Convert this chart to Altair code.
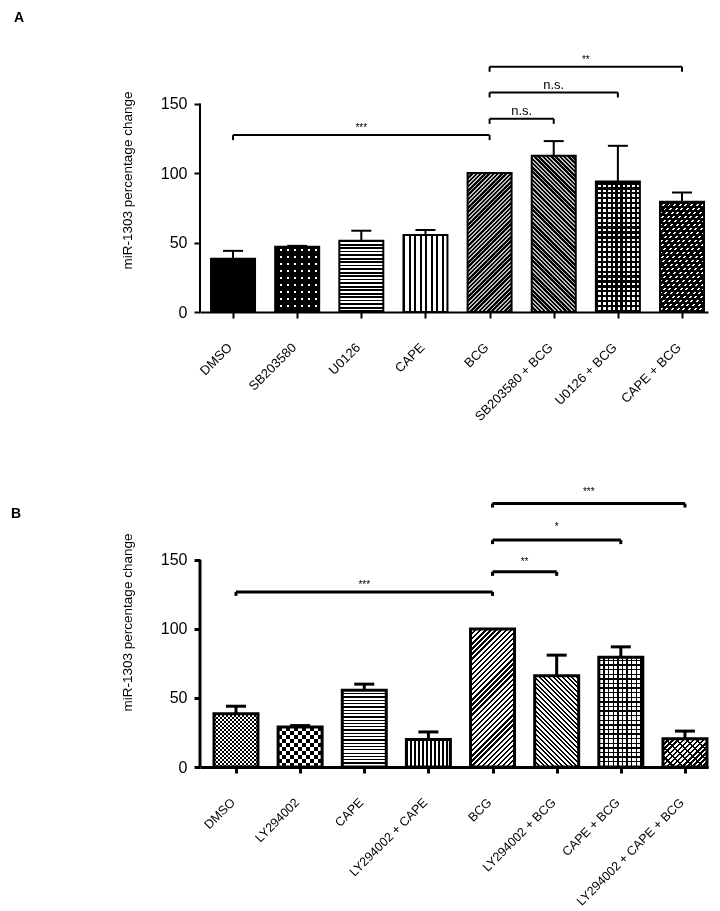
import json
import math
import altair as alt
import pandas as pd

# ---------------- data ----------------
cats_a = ["DMSO", "SB203580", "U0126", "CAPE", "BCG",
          "SB203580 + BCG", "U0126 + BCG", "CAPE + BCG"]
vals_a = [38.3, 47.0, 51.3, 55.4, 100.0, 112.5, 94.0, 79.4]
errs_a = [5.7, 0.6, 7.2, 3.6, 0.0, 10.5, 25.6, 6.6]
br_from_a = [0, 4, 4, 4]
br_to_a = [4, 5, 6, 7]
br_level_a = [127.3, 139.0, 158.0, 176.5]
br_label_a = ["***", "n.s.", "n.s.", "**"]

cats_b = ["DMSO", "LY294002", "CAPE", "LY294002 + CAPE", "BCG",
          "LY294002 + BCG", "CAPE + BCG", "LY294002 + CAPE + BCG"]
vals_b = [38.6, 29.0, 55.6, 20.0, 100.0, 66.0, 79.5, 20.5]
errs_b = [5.4, 1.0, 4.4, 5.4, 0.0, 15.0, 7.5, 5.5]
br_from_b = [0, 4, 4, 4]
br_to_b = [4, 5, 6, 7]
br_level_b = [126.8, 141.3, 164.3, 190.8]
br_label_b = ["***", "**", "*", "***"]

y_ticks = [0, 50, 100, 150]
y_title = "miR-1303 percentage change"

# ---------------- styles ----------------
FONT = "Liberation Sans"
BAR_W = 44
CAP_W = 20
WIDTH = 508
T = "rgba(255,255,255,0)"


def stripe_stops(n, duty, on, off):
    stops = []
    i = 0
    while i < n:
        a = min(i / n, 1.0)
        b = min((i + duty) / n, 1.0)
        c = min((i + 1) / n, 1.0)
        stops += [{"offset": round(a, 5), "color": on},
                  {"offset": round(b, 5), "color": on},
                  {"offset": round(b, 5), "color": off},
                  {"offset": round(c, 5), "color": off}]
        i += 1
    return stops


def gradient(kind, w, h, period, duty, on, off):
    h = max(h, 1.0)
    if kind == "h":
        n = h / period
        g = dict(x1=0, y1=1, x2=0, y2=0)
    elif kind == "v":
        n = w / period
        g = dict(x1=0, y1=0, x2=1, y2=0)
    else:
        k = h / w
        a = (w + h) / (w * (1 + k * k))
        n = (w + h) / (period * math.sqrt(2))
        if kind == "up":
            g = dict(x1=0, y1=0, x2=a, y2=a * k)
        else:
            g = dict(x1=0, y1=1, x2=a, y2=1 - a * k)
    out = {"gradient": "linear"}
    out.update(g)
    out["stops"] = stripe_stops(n, duty, on, off)
    return out


# pattern layers per bar: (kind, period px, duty, on colour, off colour, blend)
pat_a = [
    "black",
    [("v", 7, 0.74, "black", "white", None), ("h", 7, 0.74, "black", T, None)],
    [("h", 3.5, 0.45, "black", "white", None)],
    [("v", 5.5, 0.36, "black", "white", None)],
    [("up", 3.0, 0.58, "black", "#bdbdbd", None)],
    [("down", 3.0, 0.58, "black", "#bdbdbd", None)],
    [("v", 4.9, 0.45, "black", "white", None), ("h", 4.9, 0.45, "black", T, None)],
    [("up", 4.0, 0.35, "white", "black", None), ("h", 4.0, 0.4, "black", T, None)],
]
pat_b = [
    [("v", 4, 0.5, "black", "white", None), ("h", 4, 0.5, "white", T, "difference")],
    [("v", 8, 0.5, "black", "white", None), ("h", 8, 0.5, "white", T, "difference")],
    [("h", 3.3, 0.38, "black", "white", None)],
    [("v", 4.0, 0.36, "black", "white", None)],
    [("up", 3.6, 0.45, "black", "white", None)],
    [("down", 3.3, 0.45, "black", "white", None)],
    [("v", 4.6, 0.3, "black", "white", None), ("h", 4.6, 0.3, "black", T, None)],
    [("up", 3.6, 0.5, "black", "white", None), ("down", 7.0, 0.22, "black", T, None)],
]


def panel(cats, vals, errs, bfrom, bto, blevel, blabel, bsize, bgap, drop_px,
          patterns, ymax, height, xmin, xmax, lw, letter, lx, ly, xlab_size):
    ppu = height / ymax
    upx = WIDTH / (xmax - xmin)
    n = len(cats)
    df = pd.DataFrame({"idx": list(range(n)), "cat": cats, "val": vals, "err": errs})
    df["top"] = df["val"] + df["err"]
    cap_half = CAP_W / 2 / upx
    df["capl"] = df["idx"] - cap_half
    df["capr"] = df["idx"] + cap_half

    xscale = alt.Scale(domain=[xmin, xmax], nice=False, zero=False, padding=0)
    yscale = alt.Scale(domain=[0, ymax], nice=False, padding=0)
    xaxis = alt.Axis(values=list(range(n)), labelExpr=json.dumps(cats) + "[datum.value]",
                     labelAngle=-45, labelAlign="right", labelBaseline="middle",
                     labelPadding=27, labelOffset=-3.5, labelFontSize=xlab_size, labelFont=FONT,
                     labelColor="black", labelFlush=False, labelOverlap=False,
                     tickSize=6, tickWidth=lw, tickColor="black",
                     domainColor="black", domainWidth=lw, grid=False, title=None)
    yaxis = alt.Axis(values=y_ticks, domain=False, tickSize=6, tickWidth=lw, tickColor="black",
                     labelFontSize=16, labelFont=FONT, labelColor="black", labelPadding=7,
                     title=y_title, titleFontSize=13.5, titleFont=FONT, titleFontWeight="normal",
                     titleColor="black", titlePadding=26, grid=False)

    def X(f):
        return alt.X(f + ":Q", scale=xscale, axis=xaxis)

    def Y(f):
        return alt.Y(f + ":Q", scale=yscale, axis=yaxis)

    layers = []
    for i, pat in enumerate(patterns):
        sub = alt.Chart(df).transform_filter(alt.datum.idx == i)
        if isinstance(pat, str):
            layers.append(sub.mark_bar(size=BAR_W, fill=pat).encode(x=X("idx"), y=Y("val")))
            continue
        hpx = vals[i] * ppu
        for kind, period, duty, on, off, blend in pat:
            kw = {}
            if blend:
                kw["blend"] = blend
            g = gradient(kind, BAR_W, hpx, period, duty, on, off)
            layers.append(sub.mark_bar(size=BAR_W, fill=g, **kw).encode(x=X("idx"), y=Y("val")))

    # outlines
    layers.append(alt.Chart(df).mark_bar(size=BAR_W, fillOpacity=0, stroke="black",
                                         strokeWidth=lw).encode(x=X("idx"), y=Y("val")))
    # error bars
    eb = alt.Chart(df).transform_filter(alt.datum.err > 0)
    layers.append(eb.mark_rule(color="black", strokeWidth=lw).encode(
        x=X("idx"), y=Y("val"), y2="top:Q"))
    layers.append(eb.mark_rule(color="black", strokeWidth=lw).encode(
        x=X("capl"), x2="capr:Q", y=Y("top")))

    # y axis line 0..150
    ax = pd.DataFrame({"y0": [y_ticks[0]], "y1": [y_ticks[-1]]})
    layers.append(alt.Chart(ax).mark_rule(color="black", strokeWidth=lw).encode(
        x=alt.value(0), y=Y("y0"), y2="y1:Q"))

    # significance brackets
    dfb = pd.DataFrame({"f": bfrom, "t": bto, "level": blevel, "label": blabel})
    dfb["mid"] = (dfb["f"] + dfb["t"]) / 2
    dfb["low"] = dfb["level"] - drop_px / ppu
    layers.append(alt.Chart(dfb).mark_rule(color="black", strokeWidth=lw).encode(
        x=X("f"), x2="t:Q", y=Y("level")))
    layers.append(alt.Chart(dfb).mark_rule(color="black", strokeWidth=lw).encode(
        x=X("f"), y=Y("level"), y2="low:Q"))
    layers.append(alt.Chart(dfb).mark_rule(color="black", strokeWidth=lw).encode(
        x=X("t"), y=Y("level"), y2="low:Q"))
    for j in range(len(dfb)):
        layers.append(alt.Chart(dfb.iloc[[j]]).mark_text(
            font=FONT, fontSize=bsize[j], dy=-bgap[j], baseline="alphabetic",
            color="black").encode(x=X("mid"), y=Y("level"), text="label:N"))

    # panel letter
    layers.append(alt.Chart(pd.DataFrame({"t": [letter]})).mark_text(
        font=FONT, fontSize=14, fontWeight="bold", align="left", baseline="middle",
        color="black").encode(x=alt.value(lx), y=alt.value(ly), text="t:N"))

    return alt.layer(*layers).properties(width=WIDTH, height=height)


pA = panel(cats_a, vals_a, errs_a, br_from_a, br_to_a, br_level_a, br_label_a,
           [10, 13, 13, 10], [4, 3.5, 3.5, 4], 5, pat_a,
           190, 264, -0.515, -0.515 + WIDTH / 64.14, 2, "A", -186, -30, 13)
pB = panel(cats_b, vals_b, errs_b, br_from_b, br_to_b, br_level_b, br_label_b,
           [10, 10, 10, 10], [4, 7, 10, 9], 4, pat_b,
           210, 290, -0.561, -0.561 + WIDTH / 64.14, 3, "B", -189, 37, 12.5)

chart = alt.vconcat(pA, pB, spacing=53).properties(
    padding={"left": 3, "top": 3, "right": 0, "bottom": 0}
).configure_view(stroke=None)

chart.save("out.html", embed_options={"renderer": "svg", "actions": False})
